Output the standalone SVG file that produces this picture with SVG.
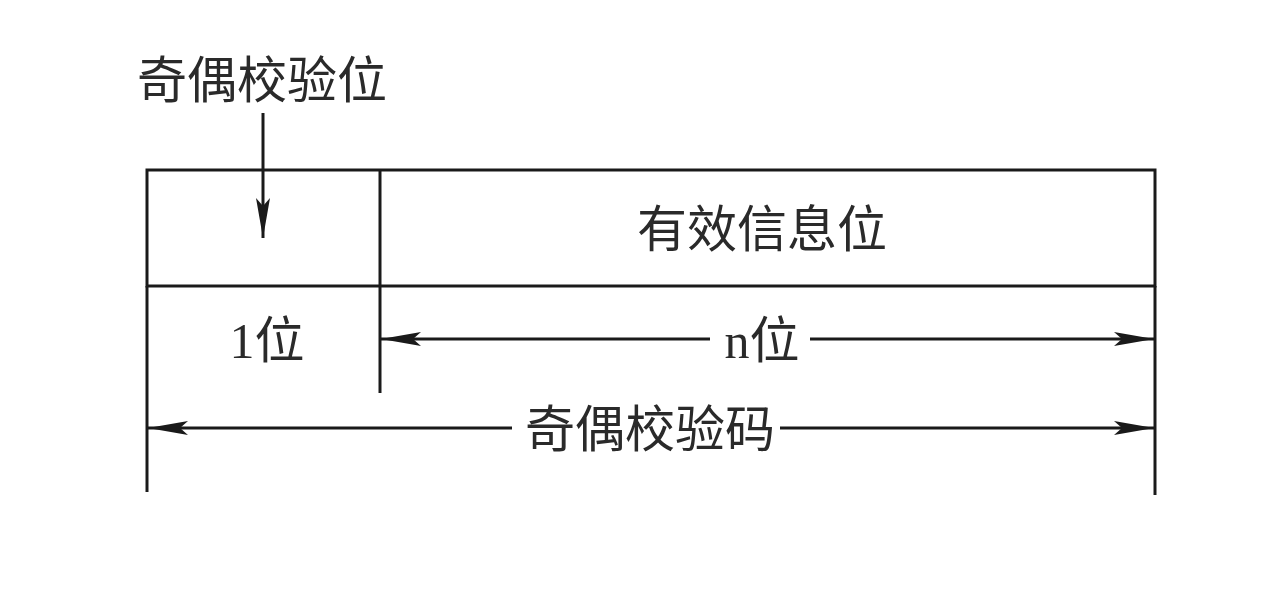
<svg xmlns="http://www.w3.org/2000/svg" width="1274" height="594" viewBox="0 0 1274 594">
<defs>
<style>
.ln{stroke:#1a1a1a;stroke-width:3;fill:none}
.t{font-family:"Liberation Serif","Noto Sans CJK SC",serif;font-size:50px;fill:#2a2a2a}
</style>
<marker id="ah" markerWidth="40" markerHeight="14" refX="40" refY="7" orient="auto" markerUnits="userSpaceOnUse">
<path d="M0,0 L40,7 L0,14 L8,7 Z" fill="#1a1a1a"/>
</marker>
</defs>
<rect width="1274" height="594" fill="#fff"/>
<g id="frame">
<rect class="ln" x="147" y="170" width="1008" height="116"/>
<line class="ln" x1="380" y1="170" x2="380" y2="393"/>
<line class="ln" x1="147" y1="286" x2="147" y2="492"/>
<line class="ln" x1="1155" y1="286" x2="1155" y2="495"/>
</g>
<g id="parity-label"><text class="t" x="262" y="98" text-anchor="middle">奇偶校验位</text></g>
<g id="info-label"><text class="t" x="762" y="247" text-anchor="middle">有效信息位</text></g>
<g id="one-bit"><text class="t" x="267" y="358" text-anchor="middle">1位</text></g>
<g id="n-bit"><text class="t" x="762" y="358" text-anchor="middle">n位</text></g>
<g id="code-label"><text class="t" x="650" y="447" text-anchor="middle">奇偶校验码</text></g>
<g id="connectors">
<line class="ln" x1="263" y1="113" x2="263" y2="238" marker-end="url(#ah)"/>
<line class="ln" x1="710" y1="339" x2="381" y2="339" marker-end="url(#ah)"/>
<line class="ln" x1="810" y1="339" x2="1154" y2="339" marker-end="url(#ah)"/>
<line class="ln" x1="512" y1="428" x2="148" y2="428" marker-end="url(#ah)"/>
<line class="ln" x1="780" y1="428" x2="1154" y2="428" marker-end="url(#ah)"/>
</g>
</svg>
